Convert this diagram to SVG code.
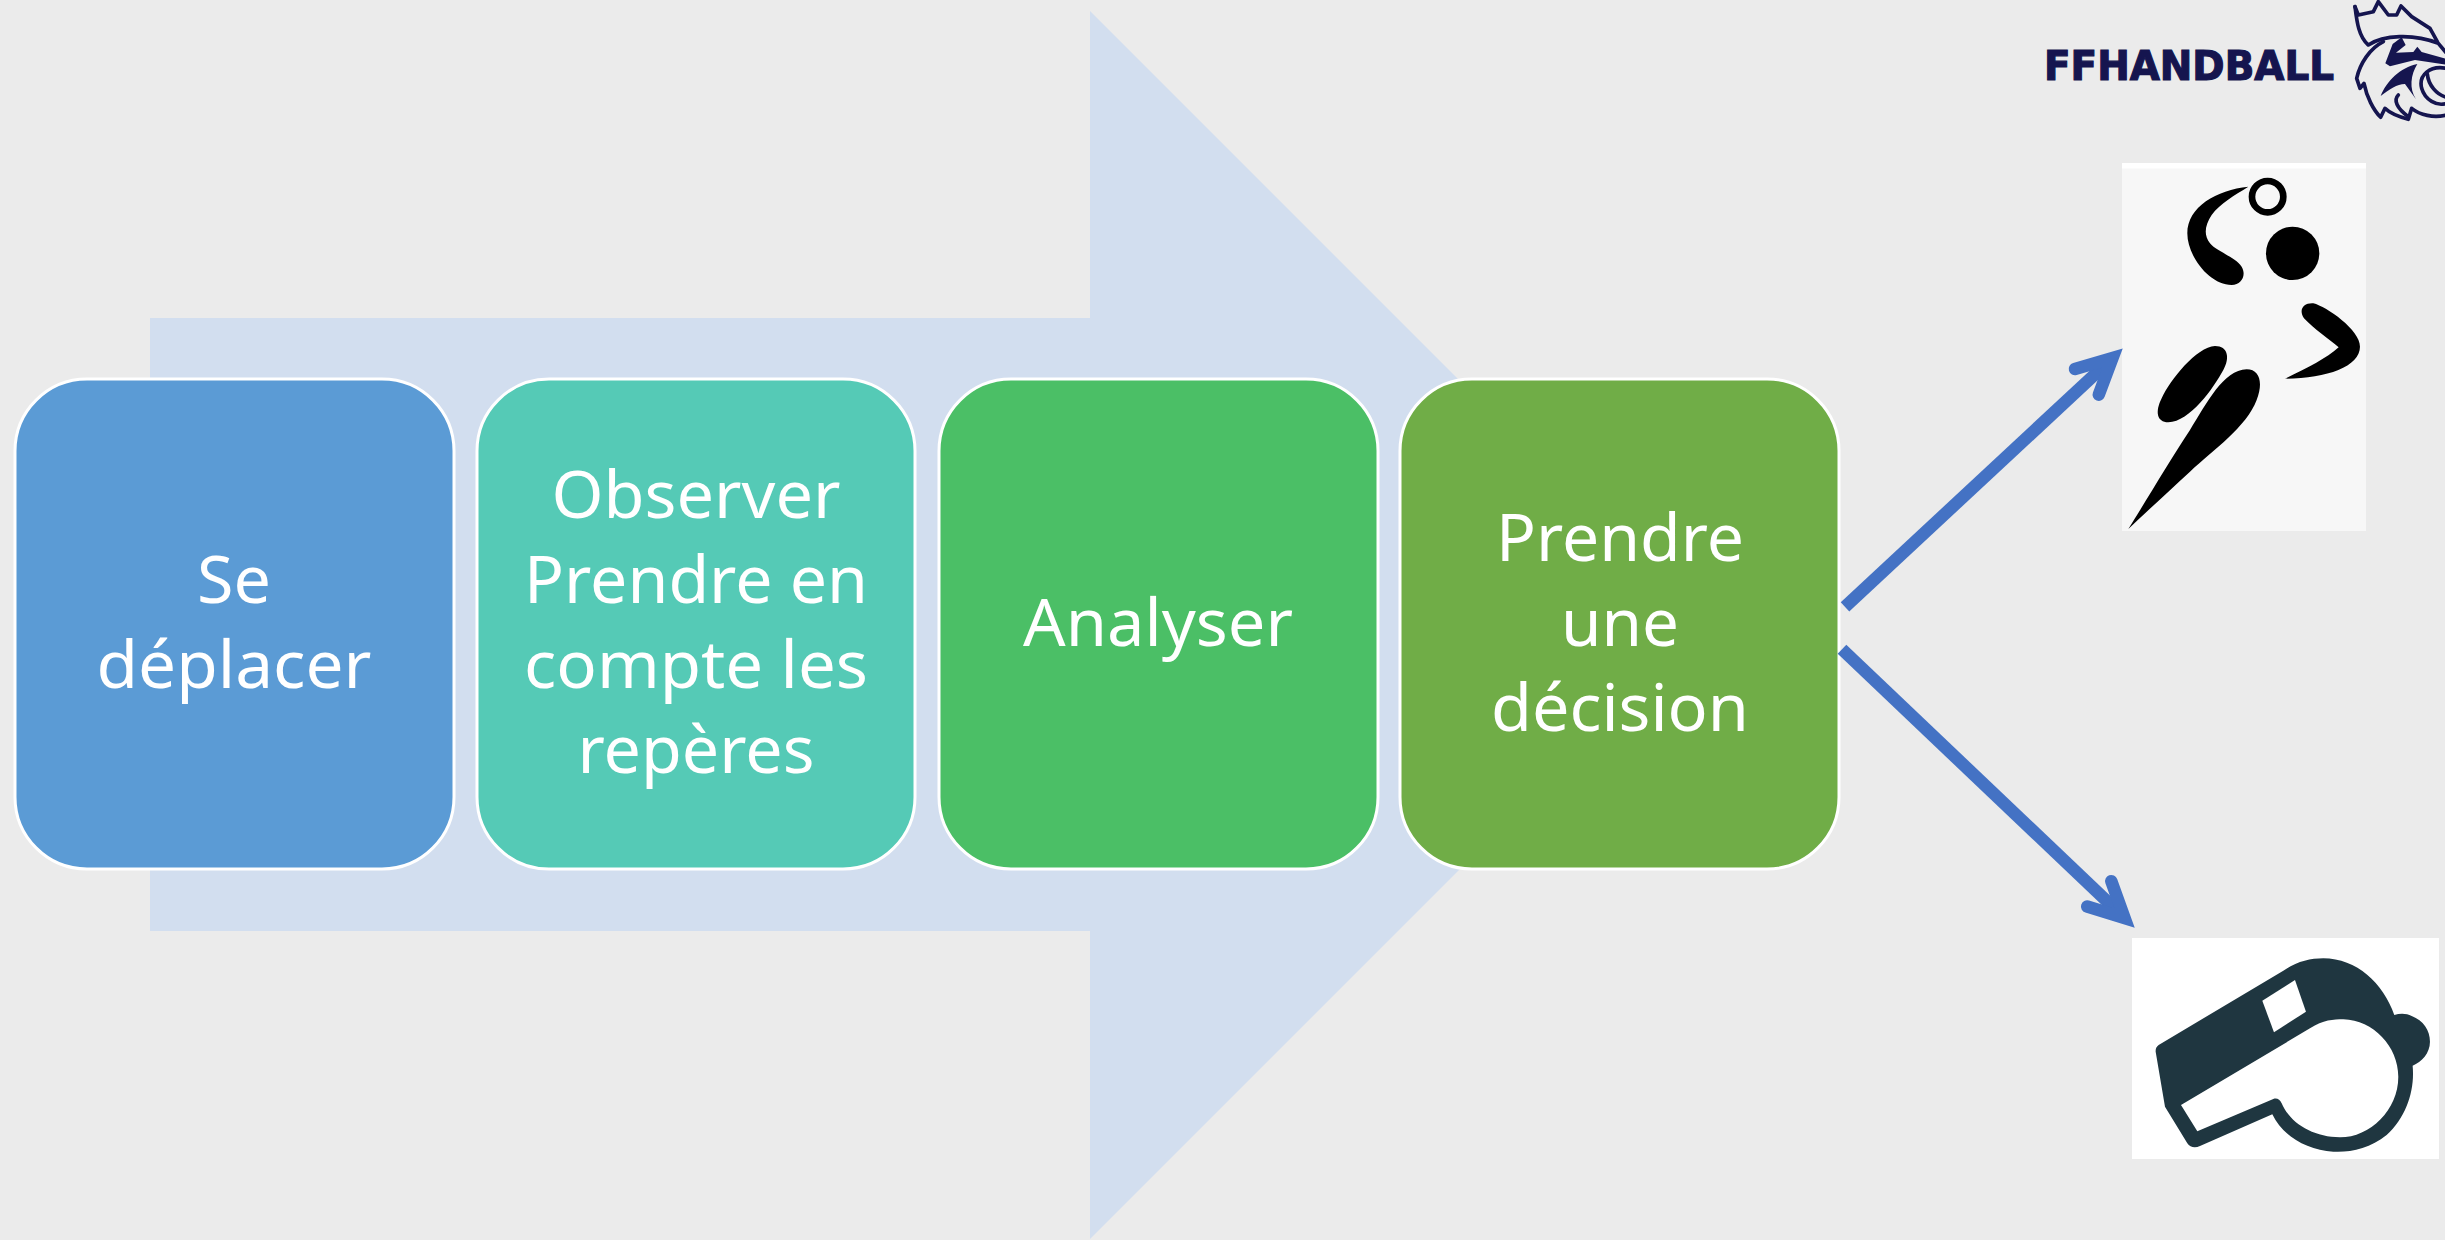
<svg xmlns="http://www.w3.org/2000/svg" width="2445" height="1240" viewBox="0 0 2445 1240">
<defs>
<style>
.box{stroke:#fff;stroke-width:3}
.t{font-family:"Noto Sans","Open Sans",sans-serif;font-size:65px;fill:#fff;text-anchor:middle}
.conn{fill:none;stroke:#4472C4;stroke-width:12.5}
.ro{fill:none;stroke:#15154F;stroke-width:11;stroke-linejoin:round;stroke-linecap:round}
.rf{fill:#15154F}
</style>
<marker id="head" markerUnits="userSpaceOnUse" markerWidth="90" markerHeight="70" refX="60" refY="30" orient="auto" overflow="visible">
<polyline points="25,12.5 60,30 25,47.5" fill="none" stroke="#4472C4" stroke-width="12.5" stroke-linecap="round" stroke-linejoin="miter" stroke-miterlimit="10"/>
</marker>
<clipPath id="logoClip"><rect x="2340" y="0" width="105" height="130"/></clipPath>
</defs>
<rect id="background" width="2445" height="1240" fill="#EBEBEB"/>
<polygon id="big-arrow" points="150,318 1090,318 1090,11 1704,625 1090,1239 1090,931 150,931" fill="#D2DEEF"/>
<g id="node-deplacer"><rect class="box" x="15" y="379" width="439" height="490" rx="72" fill="#5B9BD5"/>
<text class="t" x="234" y="603" textLength="74" lengthAdjust="spacingAndGlyphs">Se</text>
<text class="t" x="234" y="688" textLength="275" lengthAdjust="spacingAndGlyphs">déplacer</text></g>
<g id="node-observer"><rect class="box" x="477" y="379" width="438" height="490" rx="72" fill="#55CAB6"/>
<text class="t" x="696" y="518" textLength="289" lengthAdjust="spacingAndGlyphs">Observer</text>
<text class="t" x="696" y="603" textLength="344" lengthAdjust="spacingAndGlyphs">Prendre en</text>
<text class="t" x="696" y="688" textLength="344" lengthAdjust="spacingAndGlyphs">compte les</text>
<text class="t" x="696" y="773" textLength="237" lengthAdjust="spacingAndGlyphs">repères</text></g>
<g id="node-analyser"><rect class="box" x="939" y="379" width="439" height="490" rx="72" fill="#4BBF66"/>
<text class="t" x="1158" y="645.5" textLength="270" lengthAdjust="spacingAndGlyphs">Analyser</text></g>
<g id="node-decision"><rect class="box" x="1400" y="379" width="439" height="490" rx="72" fill="#70AD47"/>
<text class="t" x="1620" y="561" textLength="248" lengthAdjust="spacingAndGlyphs">Prendre</text>
<text class="t" x="1620" y="645.5" textLength="118" lengthAdjust="spacingAndGlyphs">une</text>
<text class="t" x="1620" y="730.5" textLength="258" lengthAdjust="spacingAndGlyphs">décision</text></g>
<g id="node-player">
<rect x="2122" y="163" width="244" height="368" fill="#F7F7F7"/>
<rect x="2122" y="163" width="244" height="5.5" fill="#fff"/>
<g transform="translate(2100,150) scale(0.3333)">
<circle cx="503" cy="140" r="47" fill="none" stroke="#000" stroke-width="20"/>
<circle cx="578" cy="310" r="80" fill="#000"/>
<path d="M445,110 C350,120 262,170 262,250 C262,320 330,405 395,405 C425,405 440,375 425,350 C405,320 350,305 330,280 C310,255 315,225 335,195 C360,160 405,135 445,110Z" fill="#000"/>
<path d="M555,686 C620,655 680,625 716,592 C690,570 640,535 612,505 C595,480 610,458 640,460 C680,470 780,540 780,590 C780,650 680,685 555,686Z" fill="#000"/>
<path d="M345,588 C385,588 390,625 370,660 C340,715 270,815 205,817 C170,817 165,785 185,745 C210,690 290,590 345,588Z" fill="#000"/>
<path d="M440,658 C480,658 490,700 470,750 C440,830 340,900 270,965 C210,1020 140,1085 85,1137 C140,1050 210,930 270,840 C320,760 370,660 440,658Z" fill="#000"/>
</g></g>
<g id="node-whistle">
<rect x="2132" y="938" width="307" height="221" fill="#fff"/>
<g transform="translate(2110,930) scale(0.3333)">
<path d="M146,345 L520,122 C560,95 600,85 640,85 C740,85 820,160 853,255 C870,250 890,250 905,258 C940,272 960,300 960,335 C960,370 935,395 908,407 C915,480 890,560 830,615 C780,655 720,668 670,665 C590,660 520,620 487,553 L270,648 C255,655 240,652 232,640 L165,530 L137,365 Q136,352 146,345 Z" fill="#1F3640"/>
<path d="M213,525 L600,295 C640,270 670,268 700,268 C790,270 865,350 865,440 C865,540 780,622 690,622 C610,622 540,580 515,520 C510,508 500,503 490,507 L262,604 Z" fill="#fff"/>
<path d="M555,150 L588,245 L492,307 L457,212Z" fill="#fff"/>
</g></g>
<g id="logo">
<text x="2044" y="80" font-family="'DejaVu Sans',sans-serif" font-weight="700" font-size="40" fill="#15154F" stroke="#15154F" stroke-width="1.2" textLength="290" lengthAdjust="spacingAndGlyphs">FFHANDBALL</text>
<g clip-path="url(#logoClip)"><g transform="translate(2340,0) scale(0.3333)">
<path class="ro" d="M45,20 L55,45 L100,35 L115,5 L145,45 L170,45 L183,18 L215,50 L270,85 L292,125"/>
<path class="ro" d="M45,20 C50,60 55,110 85,135 C130,105 220,100 295,130 L320,160"/>
<path class="ro" d="M130,125 C90,145 60,190 50,235 L60,265 L72,250 C80,290 100,330 122,352 L135,325 C150,340 175,350 205,358 L215,325 C240,345 280,355 320,345"/>
<path class="rf" d="M136,190 L158,132 L185,112 L197,135 L168,158 L220,156 L232,140 L245,156 L318,176 L318,194 L225,180 L150,199Z"/>
<path class="rf" d="M122,288 C140,243 180,203 232,192 C212,225 207,265 228,298 L195,252 C170,252 150,267 122,288 Z"/>
<path class="ro" d="M320,205 C270,195 235,225 245,265 C255,300 290,320 320,310"/>
<path class="ro" d="M262,222 C265,255 290,285 320,292" stroke-width="15"/>
<path class="ro" d="M175,285 C160,300 170,325 205,350"/>
</g></g></g>
<g id="connectors">
<line class="conn" x1="1845" y1="606.8" x2="2112.5" y2="358" marker-end="url(#head)"/>
<line class="conn" x1="1842" y1="649.3" x2="2124.6" y2="918" marker-end="url(#head)"/>
</g>
</svg>
